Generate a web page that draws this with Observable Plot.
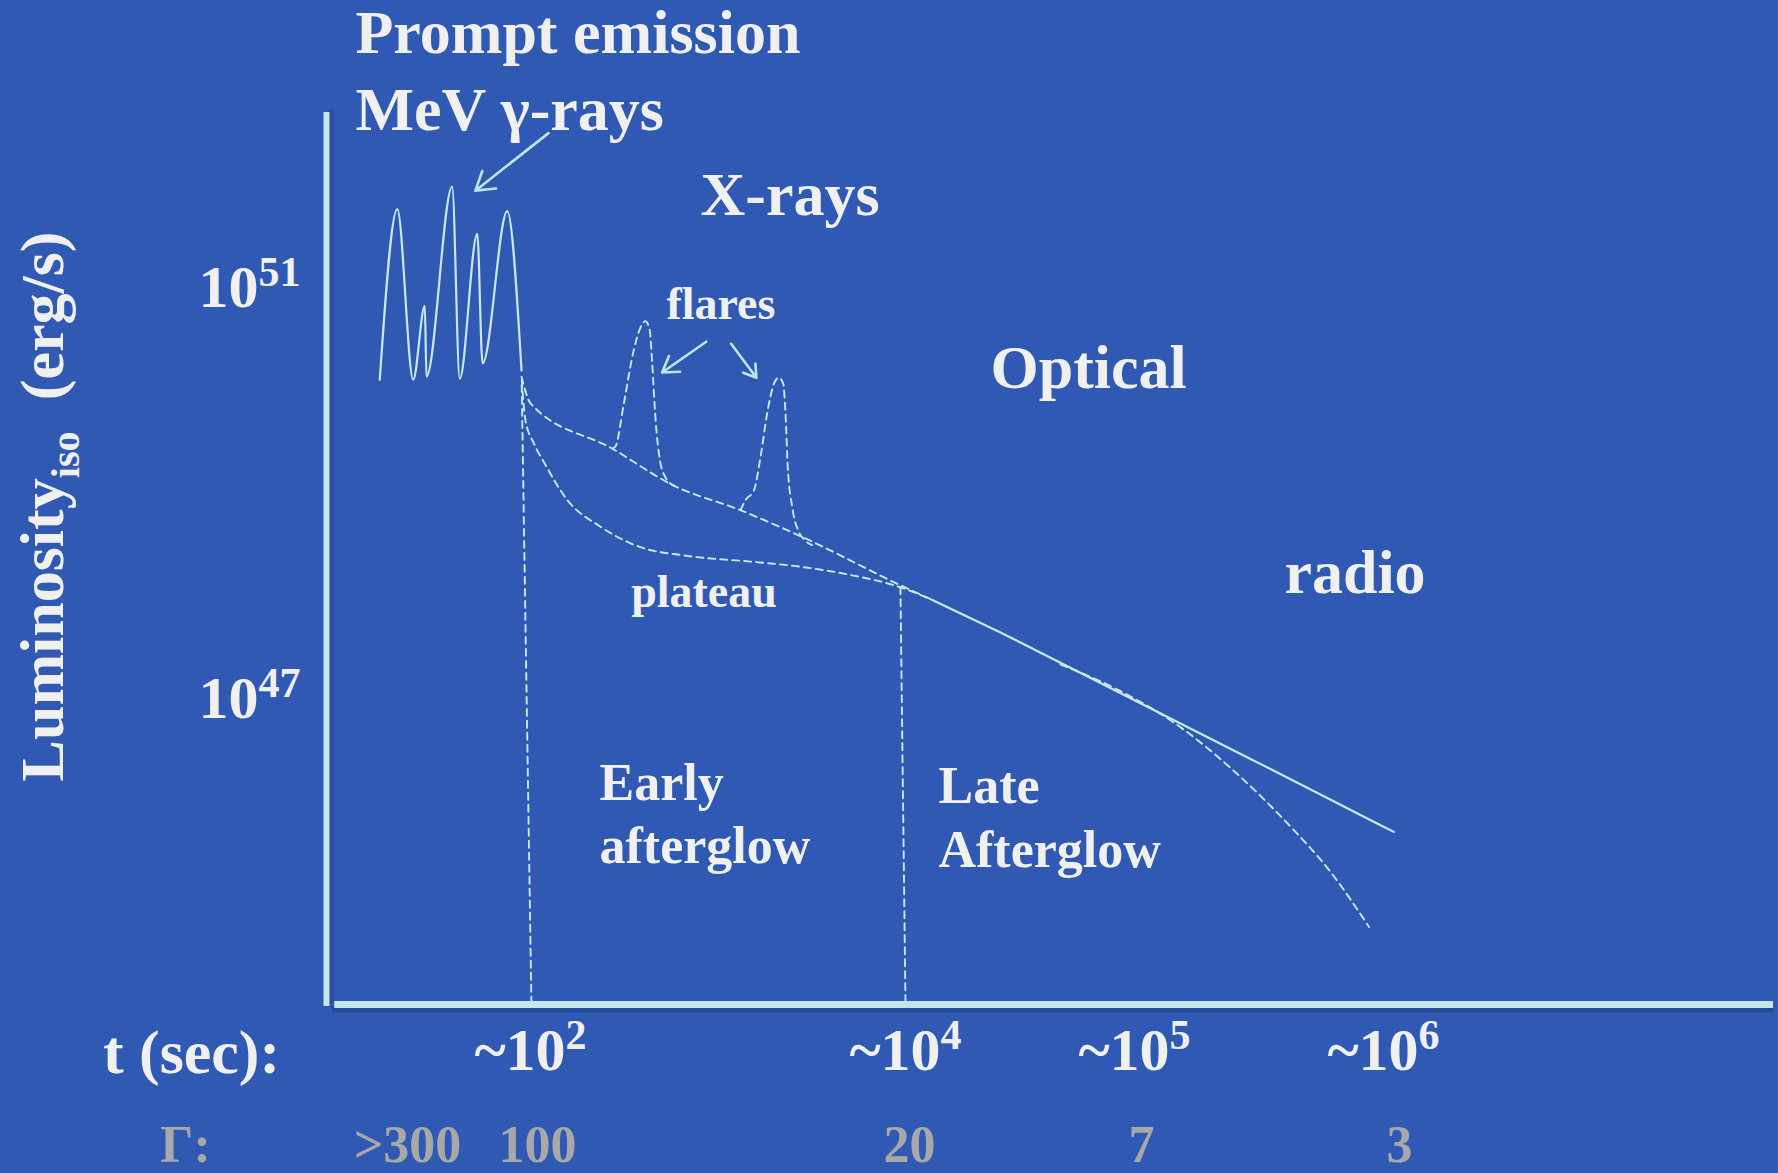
<!DOCTYPE html>
<html>
<head>
<meta charset="utf-8">
<script src="https://cdn.jsdelivr.net/npm/d3@7"></script>
<script src="https://cdn.jsdelivr.net/npm/@observablehq/plot@0.6"></script>
<style>
  html, body { margin: 0; padding: 0; background: #3059b3; }
  #chart svg { display: block; }
</style>
</head>
<body>
<div id="chart"></div>
<script>
// ---- data (schematic): x = log10(t / s), y = log10(L_iso / erg s^-1) ----
const promptT = [1.261, 1.347, 1.425, 1.482, 1.490, 1.616, 1.653, 1.739, 1.765, 1.886, 1.956];
const promptL = [50.08, 51.74, 50.08, 50.80, 50.11, 51.96, 50.09, 51.50, 50.24, 51.72, 50.17];

const xrayT = [1.956, 2.000, 2.436, 2.764, 3.120, 3.449, 3.973, 4.124];
const xrayL = [50.11, 49.85, 49.41, 49.05, 48.81, 48.55, 48.08, 47.93];

const plateauT = [1.957, 1.975, 2.018, 2.071, 2.196, 2.373, 2.587, 2.818, 3.173, 3.440, 3.707, 3.973, 4.124];
const plateauL = [50.08, 49.69, 49.46, 49.28, 48.91, 48.65, 48.45, 48.37, 48.31, 48.26, 48.18, 48.06, 47.93];

const afterglowT = [4.124, 4.415, 5.000, 5.466, 6.000, 6.040];
const afterglowL = [47.93, 47.62, 46.96, 46.39, 45.73, 45.68];

const jetT = [4.677, 4.930, 5.166, 5.396, 5.627, 5.781, 5.942];
const jetL = [47.31, 47.06, 46.73, 46.28, 45.73, 45.31, 44.755];

const flare1T = [2.436, 2.453, 2.498, 2.551, 2.587, 2.613, 2.636, 2.649, 2.667, 2.690, 2.720, 2.764];
const flare1L = [49.41, 49.43, 49.85, 50.37, 50.59, 50.65, 50.56, 50.24, 49.69, 49.30, 49.13, 49.05];

const flare2T = [3.120, 3.147, 3.191, 3.227, 3.262, 3.298, 3.324, 3.348, 3.360, 3.372, 3.396, 3.431, 3.457, 3.502];
const flare2L = [48.81, 48.91, 49.00, 49.33, 49.75, 50.04, 50.10, 50.04, 49.75, 49.23, 48.84, 48.60, 48.53, 48.47];

// phase boundaries (dashed verticals): [top, bottom]
const edge1T = [1.957, 2.005];
const edge1L = [50.03, 44];
const edge2T = [3.973, 4.000];
const edge2L = [48.06, 44];

// arrows
const arrowT1 = [2.096, 2.937, 3.070];
const arrowL1 = [52.48, 50.45, 50.43];
const arrowT2 = [1.730, 2.702, 3.205];
const arrowL2 = [51.92, 50.15, 50.10];

// annotations
const bigLabels = ["Prompt emission", "MeV γ-rays", "X-rays", "Optical", "radio"];
const bigT = [1.142, 1.142, 2.907, 4.371, 5.602];
const bigL = [53.26, 52.51, 51.68, 50.0, 48.005];

const smallLabels = ["flares", "plateau"];
const smallT = [2.725, 2.537];
const smallL = [50.67, 47.87];

const phaseLabels = ["Early", "afterglow", "Late", "Afterglow"];
const phaseT = [2.368, 2.368, 4.144, 4.144];
const phaseL = [45.99, 45.38, 45.96, 45.34];

// axes
const timeTicks = [2, 4, 5, 6];
const timeTickLabels = ["~10^{2}", "~10^{4}", "~10^{5}", "~10^{6}"];
const lumTicks = [51, 47];
const lumTickLabels = ["10^{51}", "10^{47}"];
const gammaT = [1.397, 2.037, 4.017, 5.028, 6.062];
const gammaLabels = [">300", "100", "20", "7", "3"];
const xAxisTitle = "t (sec):";
const gammaTitle = "Γ:";
const yAxisTitle = "Luminosity_{iso}\u00a0\u00a0(erg/s)";

// ---- styles ----
const bg = "#3059b3";
const lineColor = "#c8e8ee";
const axisColor = "#c4e6ea";
const arrowColor = "#bfe3e8";
const textColor = "#f0f0f0";
const gammaColor = "#a8a8a8";
const dash = "7,5";
const dashW = 1.9;

const plot = Plot.plot({
  width: 1778,
  height: 1173,
  marginLeft: 326,
  marginRight: 5,
  marginTop: 110,
  marginBottom: 169,
  style: {
    background: bg,
    fontFamily: "'Liberation Serif', 'Times New Roman', serif",
    color: textColor,
    overflow: "visible"
  },
  x: {type: "linear", domain: [1, 2, 4, 5, 6, 7.5], range: [326, 530, 905, 1134, 1383, 1773], axis: null},
  y: {type: "linear", domain: [44, 52.7], axis: null},
  marks: [
    // axis shadows
    Plot.ruleY([44], {x1: 1.03, x2: 7.5, stroke: "#1f3f86", strokeWidth: 6, dy: 5, strokeOpacity: 0.55}),
    Plot.ruleX([1], {y1: 44, y2: 52.7, stroke: "#1f3f86", strokeWidth: 6, dx: 4, strokeOpacity: 0.45}),
    // axes
    Plot.ruleY([44], {x1: 1.04, x2: 7.5, stroke: axisColor, strokeWidth: 7}),
    Plot.ruleX([1], {y1: 43.98, y2: 52.68, stroke: axisColor, strokeWidth: 6}),

    // phase boundaries
    Plot.line(edge1T, {x: edge1T, y: edge1L, stroke: lineColor, strokeWidth: dashW, strokeDasharray: dash}),
    Plot.line(edge2T, {x: edge2T, y: edge2L, stroke: lineColor, strokeWidth: dashW, strokeDasharray: dash}),

    // light curves
    Plot.line(promptT, {x: promptT, y: promptL, curve: "monotone-x", stroke: lineColor, strokeWidth: 2.2}),
    Plot.line(xrayT, {x: xrayT, y: xrayL, curve: "monotone-x", stroke: lineColor, strokeWidth: dashW, strokeDasharray: dash}),
    Plot.line(plateauT, {x: plateauT, y: plateauL, curve: "monotone-x", stroke: lineColor, strokeWidth: dashW, strokeDasharray: dash}),
    Plot.line(flare1T, {x: flare1T, y: flare1L, curve: "monotone-x", stroke: lineColor, strokeWidth: dashW, strokeDasharray: dash}),
    Plot.line(flare2T, {x: flare2T, y: flare2L, curve: "monotone-x", stroke: lineColor, strokeWidth: dashW, strokeDasharray: dash}),
    Plot.line(afterglowT, {x: afterglowT, y: afterglowL, stroke: lineColor, strokeWidth: 2.2}),
    Plot.line(jetT, {x: jetT, y: jetL, curve: "monotone-x", stroke: lineColor, strokeWidth: dashW, strokeDasharray: dash}),

    // arrows
    Plot.arrow(arrowT1, {x1: arrowT1, y1: arrowL1, x2: arrowT2, y2: arrowL2, stroke: arrowColor, strokeWidth: 2.6, headLength: 12, headAngle: 65}),

    // annotations
    Plot.text(bigLabels, {x: bigT, y: bigL, text: d => d, fontSize: 62, fontWeight: "bold", fill: textColor, textAnchor: "start", lineAnchor: "bottom"}),
    Plot.text(smallLabels, {x: smallT, y: smallL, text: d => d, fontSize: 46, fontWeight: "bold", fill: textColor, textAnchor: "start", lineAnchor: "bottom"}),
    Plot.text(phaseLabels, {x: phaseT, y: phaseL, text: d => d, fontSize: 52, fontWeight: "bold", fill: textColor, textAnchor: "start", lineAnchor: "bottom"}),

    // tick labels
    Plot.text(timeTicks, {x: timeTicks, y: 44, text: timeTickLabels, dy: 65, fontSize: 60, fontWeight: "bold", fill: textColor, textAnchor: "middle", lineAnchor: "bottom"}),
    Plot.text(lumTicks, {x: 1, y: lumTicks, text: lumTickLabels, dx: -26, dy: 22, fontSize: 60, fontWeight: "bold", fill: textColor, textAnchor: "end", lineAnchor: "bottom"}),
    Plot.text(gammaT, {x: gammaT, frameAnchor: "bottom", text: gammaLabels, dy: 157, fontSize: 52, fontWeight: "bold", fill: gammaColor, textAnchor: "middle", lineAnchor: "bottom"}),

    // axis titles
    Plot.text([xAxisTitle], {frameAnchor: "bottom-left", dx: -135, dy: 68, fontSize: 62, fontWeight: "bold", fill: textColor, textAnchor: "middle", lineAnchor: "bottom"}),
    Plot.text([gammaTitle], {frameAnchor: "bottom-left", dx: -141, dy: 157, fontSize: 52, fontWeight: "bold", fill: gammaColor, textAnchor: "middle", lineAnchor: "bottom"}),
    Plot.text([yAxisTitle], {frameAnchor: "left", dx: -264, dy: -51, rotate: -90, fontSize: 62, fontWeight: "bold", fill: textColor, textAnchor: "middle", lineAnchor: "bottom"})
  ]
});

document.getElementById("chart").append(plot);

// superscripts ^{..} and subscripts _{..} rendered as tspans
function richText(svg) {
  svg.querySelectorAll("text").forEach(t => {
    const s = t.textContent;
    if (!/[\^_]\{/.test(s)) return;
    const fs = parseFloat(getComputedStyle(t).fontSize);
    const parts = s.split(/([\^_]\{[^}]*\})/).filter(p => p.length);
    t.textContent = "";
    let shift = 0;
    for (const p of parts) {
      const ts = document.createElementNS("http://www.w3.org/2000/svg", "tspan");
      let target = 0, size = null, txt = p;
      if (p.startsWith("^{")) { target = -0.35 * fs; size = 0.7 * fs; txt = p.slice(2, -1); }
      else if (p.startsWith("_{")) { target = 0.26 * fs; size = 0.65 * fs; txt = p.slice(2, -1); }
      if (size) ts.setAttribute("font-size", size);
      if (target !== shift) ts.setAttribute("dy", target - shift);
      shift = target;
      ts.textContent = txt;
      t.appendChild(ts);
    }
  });
}
richText(plot);
</script>
</body>
</html>
